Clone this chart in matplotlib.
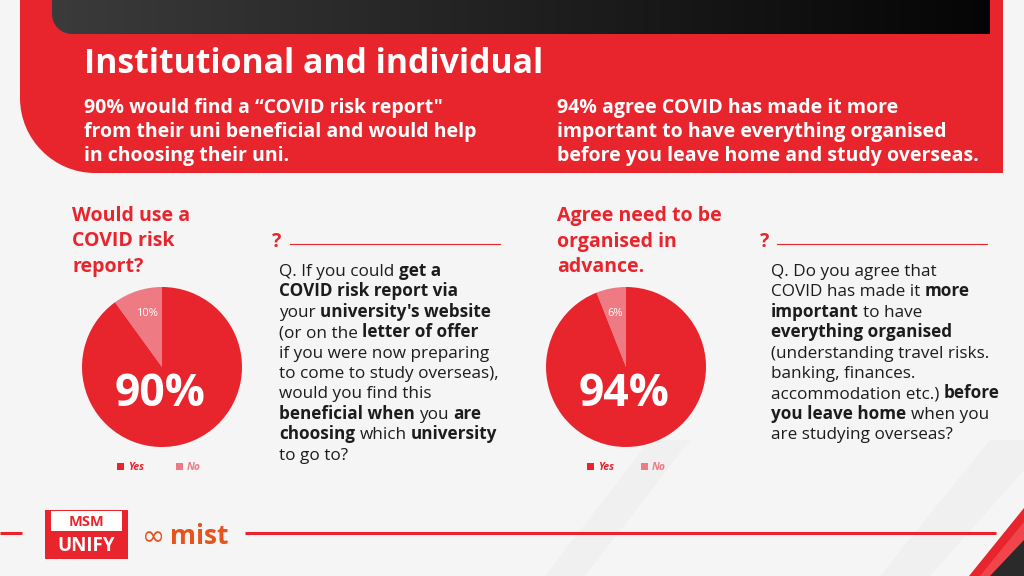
import matplotlib
matplotlib.use("Agg")
import matplotlib.pyplot as plt
import numpy as np
from matplotlib.path import Path
from matplotlib.patches import PathPatch, Polygon, Rectangle

plt.rcParams["font.family"] = ["Open Sans", "DejaVu Sans"]

# data
pie_labels = ["Yes", "No"]
risk_report = [90, 10]
organised = [94, 6]

title = "Institutional and individual"
left_summary = [
    "90% would find a \u201cCOVID risk report\"",
    "from their uni beneficial and would help",
    "in choosing their uni.",
]
right_summary = [
    "94% agree COVID has made it more",
    "important to have everything organised",
    "before you leave home and study overseas.",
]
left_heading = ["Would use a", "COVID risk", "report?"]
right_heading = ["Agree need to be", "organised in", "advance."]

# (text, bold) runs per line
left_question = [
    [("Q. If you could", 0), ("get a", 1)],
    [("COVID risk report via", 1)],
    [("your", 0), ("university's website", 1)],
    [("(or on the", 0), ("letter of offer", 1)],
    [("if you were now preparing", 0)],
    [("to come to study overseas),", 0)],
    [("would you find this", 0)],
    [("beneficial when", 1), ("you", 0), ("are", 1)],
    [("choosing", 1), ("which", 0), ("university", 1)],
    [("to go to?", 0)],
]
right_question = [
    [("Q. Do you agree that", 0)],
    [("COVID has made it", 0), ("more", 1)],
    [("important", 1), ("to have", 0)],
    [("everything organised", 1)],
    [("(understanding travel risks.", 0)],
    [("banking, finances.", 0)],
    [("accommodation etc.)", 0), ("before", 1)],
    [("you leave home", 1), ("when you", 0)],
    [("are studying overseas?", 0)],
]

RED = "#e8252d"
PINK = "#ee7a83"
BG = "#f5f5f5"
INK = "#1c1c1c"

fig = plt.figure(figsize=(10.24, 5.76), dpi=100)
fig.patch.set_facecolor(BG)

# background layer (below the pies)
bg = fig.add_axes([0, 0, 1, 1])
bg.set_xlim(0, 1024)
bg.set_ylim(576, 0)
bg.axis("off")
bg.set_zorder(0)
for pts in [[(545, 576), (650, 440), (690, 440), (585, 576)],
            [(880, 576), (990, 440), (1024, 440), (1024, 470), (930, 576)]]:
    bg.add_patch(Polygon(pts, closed=True, fc="#f0f0f0", ec="none"))

ax = fig.add_axes([0, 0, 1, 1])
ax.set_xlim(0, 1024)
ax.set_ylim(576, 0)
ax.axis("off")
ax.set_zorder(2)

# red header panel with one rounded corner
r = 75
verts = [(20, 0), (1003, 0), (1003, 173), (20 + r, 173),
         (20 + r * 0.45, 173), (20, 173 - r * 0.45), (20, 173 - r), (20, 0)]
codes = [Path.MOVETO, Path.LINETO, Path.LINETO, Path.LINETO,
         Path.CURVE4, Path.CURVE4, Path.CURVE4, Path.CLOSEPOLY]
ax.add_patch(PathPatch(Path(verts, codes), fc=RED, ec="none", zorder=1))

# dark gradient bar
r2 = 20
verts = [(52, 0), (990, 0), (990, 34), (52 + r2, 34),
         (52 + r2 * 0.45, 34), (52, 34 - r2 * 0.45), (52, 34 - r2), (52, 0)]
bar = PathPatch(Path(verts, codes), fc="none", ec="none", zorder=2)
ax.add_patch(bar)
grad = np.linspace(0, 1, 256).reshape(1, -1)
im = ax.imshow(grad, extent=(52, 990, 34, 0), cmap=matplotlib.colors.LinearSegmentedColormap.from_list(
    "g", ["#3b3b3b", "#050505"]), aspect="auto", zorder=2)
im.set_clip_path(bar)

renderer = fig.canvas.get_renderer()


def runs(x, y, line, size, color):
    space = ax.text(0, 0, "a a", fontsize=size)
    nospace = ax.text(0, 0, "aa", fontsize=size)
    sw = space.get_window_extent(renderer).width - nospace.get_window_extent(renderer).width
    space.remove()
    nospace.remove()
    for seg, bold in line:
        t = ax.text(x, y, seg, fontsize=size, color=color, va="baseline", ha="left",
                    fontweight="bold" if bold else "normal", zorder=5)
        x += t.get_window_extent(renderer).width + sw


ax.text(84, 73, title, fontsize=24.4, fontweight="bold", color="white", va="baseline", zorder=5)
for i, s in enumerate(left_summary):
    ax.text(84, 113 + i * 24, s, fontsize=14, fontweight="bold", color="white", va="baseline", zorder=5)
for i, s in enumerate(right_summary):
    ax.text(557, 113 + i * 24, s, fontsize=14, fontweight="bold", color="white", va="baseline", zorder=5)

for i, s in enumerate(left_heading):
    ax.text(72, 221 + i * 25.5, s, fontsize=14, fontweight="bold", color=RED, va="baseline")
for i, s in enumerate(right_heading):
    ax.text(557, 221 + i * 25.5, s, fontsize=14, fontweight="bold", color=RED, va="baseline")

# question blocks
for qx, lx0, lx1, lines in [(272, 290, 500, left_question), (760, 777, 987, right_question)]:
    ax.text(qx, 247, "?", fontsize=14, fontweight="bold", color=RED, va="baseline")
    ax.plot([lx0, lx1], [244, 244], color=RED, lw=0.8)
    tx = qx + 7 if lines is left_question else qx + 11
    for i, line in enumerate(lines):
        runs(tx, 276 + i * 20.4, line, 12.3, INK)


# pies
def pie(cx, cy, values, small_pos, lg_x):
    pax = fig.add_axes([(cx - 80) / 1024, 1 - (cy + 80) / 576, 160 / 1024, 160 / 576])
    pax.set_zorder(1)
    pax.pie([values[1], values[0]], colors=[PINK, RED], startangle=90, counterclock=True,
            radius=1.0, wedgeprops=dict(linewidth=0))
    pax.set_xlim(-1, 1)
    pax.set_ylim(-1, 1)
    pax.set_aspect("auto")
    pax.axis("off")
    ax.text(cx - 2, cy + 28, f"{values[0]}%", fontsize=32, fontweight="bold", color="white",
            ha="center", va="center", zorder=6)
    ax.text(small_pos[0], small_pos[1], f"{values[1]}%", fontsize=8, color="white",
            ha="center", va="center", zorder=6)
    for lx, lab, col in zip(lg_x, pie_labels, [RED, PINK]):
        ax.add_patch(Rectangle((lx, 463), 7, 7, fc=col, ec="none"))
        ax.text(lx + 11, 467, lab, fontsize=7.5, fontweight="bold", color=col, va="center",
                style="italic")


pie(162, 367, risk_report, (147, 313), [117, 176])
pie(626, 367, organised, (615, 313), [587, 641])

# footer line
ax.plot([0, 22], [533, 533], color=RED, lw=2.2, solid_capstyle="butt")
ax.plot([245, 996], [533, 533], color=RED, lw=2.2, solid_capstyle="butt")

# corner decoration
ax.add_patch(Polygon([(969, 576), (1024, 508), (1024, 576)], closed=True, fc=RED, ec="none", zorder=3))
ax.add_patch(Polygon([(980, 576), (1024, 522), (1024, 576)], closed=True, fc="#f0454b", ec="none", zorder=3))
ax.add_patch(Polygon([(990, 576), (1024, 540), (1024, 576)], closed=True, fc="#2a2a2a", ec="none", zorder=4))

# logos
ax.add_patch(Rectangle((45, 510), 83, 49, fc=RED, ec="none", zorder=3))
ax.add_patch(Rectangle((51, 511), 71, 20, fc="white", ec="none", zorder=4))
ax.text(86.5, 521.5, "MSM", fontsize=10.5, fontweight="bold", color=RED, ha="center", va="center", zorder=5)
ax.text(86.5, 546, "UNIFY", fontsize=13.5, fontweight="bold", color="white", ha="center", va="center", zorder=5)
ax.text(154, 537, "\u221e", fontsize=20, color="#e6531d", ha="center", va="center",
        family=["DejaVu Sans"], zorder=5)
ax.text(170, 537, "mist", fontsize=19, fontweight="bold", color="#e6531d", ha="left", va="center", zorder=5)

fig.savefig("out.png", dpi=100, facecolor=BG)
